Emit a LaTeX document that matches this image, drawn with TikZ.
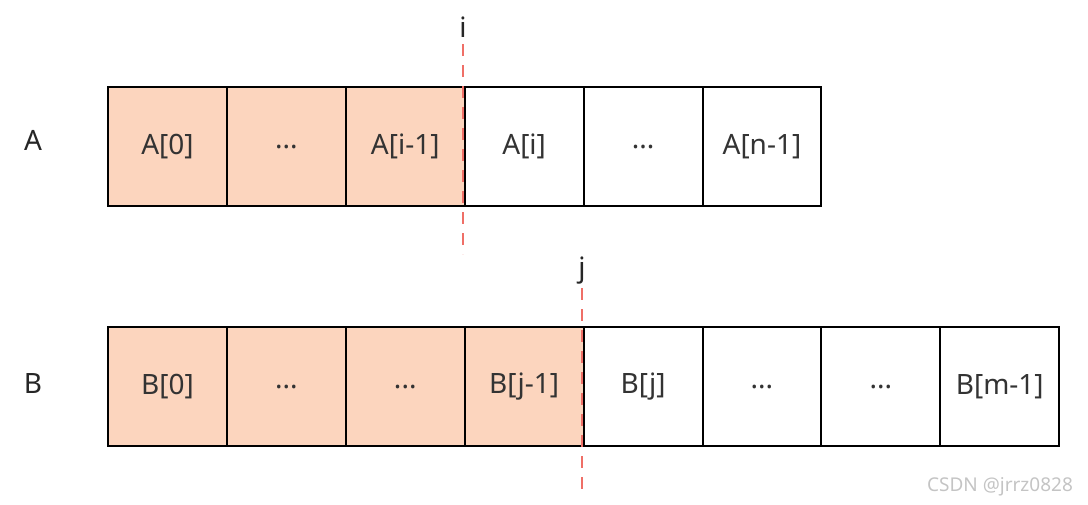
\documentclass[tikz,border=0pt]{standalone}
\usepackage{fontspec}
\setmainfont{Noto Sans}
\usetikzlibrary{positioning}
\definecolor{cellfill}{HTML}{FCD5BE}
\definecolor{cutred}{HTML}{EF6F67}
\definecolor{markgray}{HTML}{C4C4C4}
\tikzset{
  cell/.style={draw=black, line width=2pt, minimum width=118.9pt, minimum height=119pt, inner sep=0pt, font=\fontsize{28}{32}\selectfont, text=black!80},
  done/.style={cell, fill=cellfill},
  rowlabel/.style={inner sep=0pt, font=\fontsize{28}{32}\selectfont, text=black!85},
  cutline/.style={draw=cutred, line width=1.6pt, dash pattern=on 12pt off 9pt}
}

\begin{document}
\begin{tikzpicture}[x=1pt,y=-1pt]
\useasboundingbox (0,0) rectangle (1088,504);
% row A
\node[rowlabel] (la) at (33,140) {A};
\node[done] (a0) at (167.45,146.5) {A[0]};
\node[done] (a1) at (286.35,146.5) {...};
\node[done] (a2) at (405.25,146.5) {A[i-1]};
\node[cell] (a3) at (524.15,146.5) {A[i]};
\node[cell] (a4) at (643.05,146.5) {...};
\node[cell] (a5) at (761.95,146.5) {A[n-1]};
% row B
\node[rowlabel] (lb) at (33,383) {B};
\node[done] (b0) at (167.45,386.5) {B[0]};
\node[done] (b1) at (286.35,386.5) {...};
\node[done] (b2) at (405.25,386.5) {...};
\node[done] (b3) at (524.15,386.5) {B[j-1]};
\node[cell] (b4) at (643.05,386.5) {B[j]};
\node[cell] (b5) at (761.95,386.5) {...};
\node[cell] (b6) at (880.85,386.5) {...};
\node[cell] (b7) at (999.75,386.5) {B[m-1]};
% cut lines
\node[rowlabel] (ci) at (463,27) {i};
\coordinate (itop) at (463,44);
\coordinate (ibot) at (463,254);
\draw[cutline] (itop) -- (ibot);
\node[rowlabel] (cj) at (582,271) {j};
\coordinate (jtop) at (582,288);
\coordinate (jbot) at (582,495);
\draw[cutline] (jtop) -- (jbot);
% watermark
\node[inner sep=0pt, text=markgray, font=\fontsize{19}{22}\selectfont] (mark) at (1000,487) {CSDN @jrrz0828};
\end{tikzpicture}
\end{document}
